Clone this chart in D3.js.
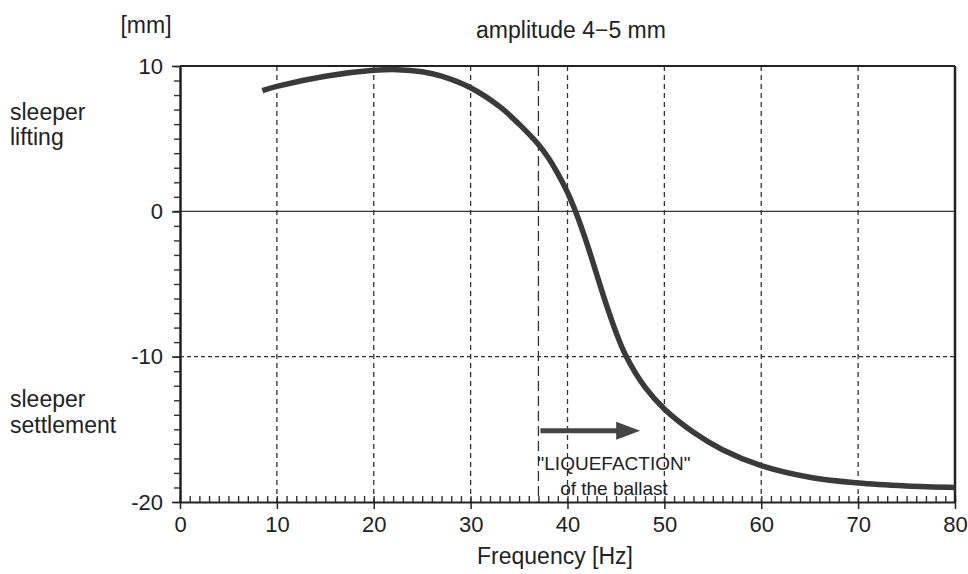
<!DOCTYPE html>
<html>
<head>
<meta charset="utf-8">
<script src="https://cdn.jsdelivr.net/npm/d3@7"></script>
<style>
  body { margin: 0; background: #fff; }
  svg { font-family: "Liberation Sans", Arial, sans-serif; }
  .tick text { font-size: 22px; fill: #222; }
  .lbl { font-size: 23px; fill: #222; }
  .note { font-size: 19px; fill: #222; }
</style>
</head>
<body>
<script>
const width = 968;
const height = 574;
const margin = {top: 66, right: 13, bottom: 72, left: 180};

// settlement curve
const freq = [8.5, 10, 15, 20, 22.5, 25, 27, 30, 33, 35, 37, 38, 39, 40, 41, 42, 43, 44, 45, 46, 48, 50, 53, 56, 60, 65, 70, 75, 80];
const settle = [8.3, 8.6, 9.3, 9.7, 9.75, 9.6, 9.3, 8.5, 7.2, 6.0, 4.6, 3.7, 2.6, 1.3, -0.3, -2.2, -4.3, -6.4, -8.3, -9.9, -12.1, -13.6, -15.2, -16.4, -17.5, -18.3, -18.7, -18.9, -19.0];

const xTicks = [0, 10, 20, 30, 40, 50, 60, 70, 80];
const yTicks = [10, 0, -10, -20];
const gridX = [10, 20, 30, 40, 50, 60, 70];
const liquefStart = 37;
const arrowEnd = 47.5;
const arrowLevel = -15.1;

const w = width - margin.left - margin.right;
const h = height - margin.top - margin.bottom;

const svg = d3.select("body").append("svg")
    .attr("width", width)
    .attr("height", height);

const g = svg.append("g")
    .attr("transform", `translate(${margin.left},${margin.top})`);

const x = d3.scaleLinear().domain([0, 80]).range([0, w]);
const y = d3.scaleLinear().domain([-20, 10]).range([h, 0]);

// grid
g.selectAll(".gx").data(gridX).enter().append("line")
    .attr("x1", d => x(d)).attr("x2", d => x(d))
    .attr("y1", 0).attr("y2", h)
    .attr("stroke", "#333").attr("stroke-width", 1.3)
    .attr("stroke-dasharray", "5,4");

g.append("line")
    .attr("x1", 0).attr("x2", w)
    .attr("y1", y(-10)).attr("y2", y(-10))
    .attr("stroke", "#333").attr("stroke-width", 1.2)
    .attr("stroke-dasharray", "4,3");

g.append("line")
    .attr("x1", -6).attr("x2", w)
    .attr("y1", y(0)).attr("y2", y(0))
    .attr("stroke", "#333").attr("stroke-width", 1.2);

g.append("line")
    .attr("x1", x(liquefStart)).attr("x2", x(liquefStart))
    .attr("y1", 0).attr("y2", h)
    .attr("stroke", "#333").attr("stroke-width", 1.3)
    .attr("stroke-dasharray", "10,5");

// minor ticks
g.append("g")
    .attr("transform", `translate(0,${h})`)
    .call(d3.axisTop(x).ticks(80).tickSize(6).tickFormat(""))
    .call(a => a.select(".domain").remove())
    .selectAll("line").attr("stroke", "#333").attr("stroke-width", 1.4);

g.append("g")
    .call(d3.axisLeft(y).ticks(30).tickSize(6).tickFormat(""))
    .call(a => a.select(".domain").remove())
    .selectAll("line").attr("stroke", "#333").attr("stroke-width", 1.4);

// major axes
const xAxis = g.append("g")
    .attr("transform", `translate(0,${h})`)
    .call(d3.axisBottom(x).tickValues(xTicks).tickSize(7).tickPadding(7).tickSizeOuter(0));
xAxis.select(".domain").attr("stroke", "#222").attr("stroke-width", 2);
xAxis.selectAll("line").attr("stroke", "#222").attr("stroke-width", 1.5);

const yAxis = g.append("g")
    .call(d3.axisLeft(y).tickValues(yTicks).tickSize(8).tickPadding(9).tickSizeOuter(0));
yAxis.select(".domain").attr("stroke", "#222").attr("stroke-width", 2.5);
yAxis.selectAll("line").attr("stroke", "#222").attr("stroke-width", 1.5);
yAxis.selectAll("text").text(d => d < 0 ? "-" + Math.abs(d) : d);

// frame top and right
g.append("line").attr("x1", 0).attr("x2", w).attr("y1", 0).attr("y2", 0)
    .attr("stroke", "#222").attr("stroke-width", 2);
g.append("line").attr("x1", w).attr("x2", w).attr("y1", 0).attr("y2", h)
    .attr("stroke", "#222").attr("stroke-width", 2.5);

// curve
const line = d3.line()
    .x((d, i) => x(freq[i]))
    .y(d => y(d))
    .curve(d3.curveCatmullRom);

g.append("path")
    .datum(settle)
    .attr("d", line)
    .attr("fill", "none")
    .attr("stroke", "#3a3a3a")
    .attr("stroke-width", 5.5)
    .attr("stroke-linecap", "butt");

// arrow
g.append("line")
    .attr("x1", x(liquefStart) + 2).attr("x2", x(arrowEnd) - 22)
    .attr("y1", y(arrowLevel)).attr("y2", y(arrowLevel))
    .attr("stroke", "#444").attr("stroke-width", 5);
g.append("path")
    .attr("d", `M${x(arrowEnd)},${y(arrowLevel)} l-24,-9 l0,18 z`)
    .attr("fill", "#444");

g.append("text").attr("class", "note")
    .attr("x", x(44.8)).attr("y", y(-17.8))
    .attr("text-anchor", "middle")
    .text("\"LIQUEFACTION\"");
g.append("text").attr("class", "note")
    .attr("x", x(44.8)).attr("y", y(-19.5))
    .attr("text-anchor", "middle")
    .text("of the ballast");

// labels
svg.append("text").attr("class", "lbl")
    .attr("x", 146).attr("y", 33).attr("text-anchor", "middle")
    .text("[mm]");
svg.append("text").attr("class", "lbl")
    .attr("x", 571).attr("y", 38).attr("text-anchor", "middle")
    .text("amplitude 4\u22125 mm");
svg.append("text").attr("class", "lbl")
    .attr("x", 555).attr("y", 564).attr("text-anchor", "middle")
    .text("Frequency [Hz]");

const sideLabels = [["sleeper", 120], ["lifting", 145], ["sleeper", 407], ["settlement", 433]];
svg.selectAll(".side").data(sideLabels).enter().append("text")
    .attr("class", "lbl")
    .attr("x", 10).attr("y", d => d[1])
    .text(d => d[0]);
</script>
</body>
</html>
